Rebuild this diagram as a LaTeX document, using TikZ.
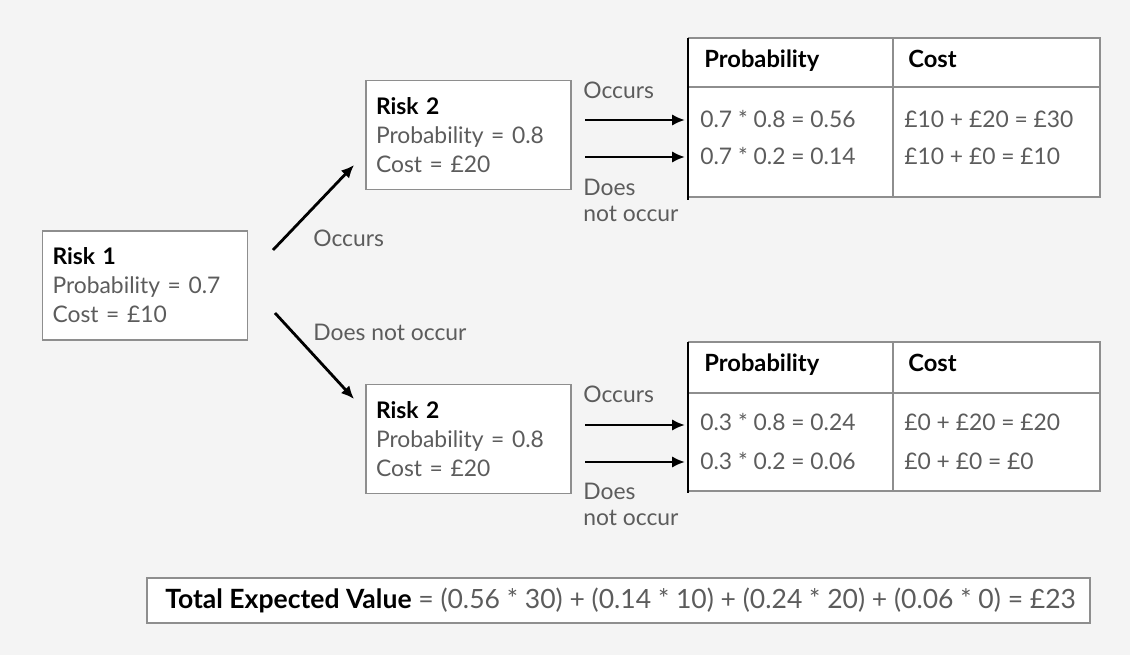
\documentclass[tikz,border=0pt]{standalone}
\usepackage{fontspec}
\setmainfont{Lato}
\usetikzlibrary{arrows.meta}
\definecolor{bggray}{HTML}{F4F4F4}
\definecolor{linegray}{HTML}{8E8E8E}
\definecolor{txtgray}{HTML}{5C5C5C}
\tikzset{
  riskbox/.style={draw=linegray, line width=1.1pt, fill=white, minimum width=4.08cm,
    minimum height=2.18cm, text width=3.7cm, align=left, inner xsep=0.2cm,
    font=\fontsize{13}{16.5}\selectfont, text=txtgray},
  lbl/.style={anchor=west, inner sep=0pt, text=txtgray, font=\fontsize{13}{15}\selectfont},
  cell/.style={anchor=base west, inner sep=0pt, text=txtgray, font=\fontsize{13}{15}\selectfont},
  head/.style={anchor=base west, inner sep=0pt, font=\bfseries\fontsize{13.5}{15}\selectfont},
  arr/.style={line width=1.6pt, -{Latex[length=2.6mm,width=2.3mm]}}
}
\begin{document}
\begin{tikzpicture}[x=0.02cm, y=-0.02cm]
  \fill[bggray] (0,0) rectangle (1130,655);
  \useasboundingbox (0,0) rectangle (1130,655);

  % risk boxes
  \node[riskbox] (r1) at (145,285.5) {\textcolor{black}{\textbf{Risk 1}}\\Probability = 0.7\\Cost = £10};
  \node[riskbox] (r2a) at (468.5,135) {\textcolor{black}{\textbf{Risk 2}}\\Probability = 0.8\\Cost = £20};
  \node[riskbox] (r2b) at (468.5,439) {\textcolor{black}{\textbf{Risk 2}}\\Probability = 0.8\\Cost = £20};

  % branches from risk 1
  \coordinate (up) at (273,250);
  \coordinate (dn) at (275,313);
  \draw[arr] (up) -- ([xshift=-0.22cm,yshift=-0.6cm]r2a.west);
  \draw[arr] (dn) -- ([xshift=-0.22cm,yshift=0.8cm]r2b.west);
  \node[lbl] (occ1) at (313,238) {Occurs};
  \node[lbl] (nocc1) at (313,332) {Does not occur};

  % top table
  \begin{scope}
    \fill[white] (688,38) rectangle (1100,197);
    \draw[linegray, line width=1.1pt] (688,38) -- (1100,38) -- (1100,197) -- (688,197);
    \draw[linegray, line width=1.1pt] (688,87) -- (1100,87);
    \draw[linegray, line width=1.1pt] (893,38) -- (893,197);
    \draw[line width=1.1pt] (688,38) -- (688,200);

    \node[head] (t1h1) at (704,68) {Probability};
    \node[head] (t1h2) at (908,68) {Cost};
    \node[cell] (t1p1) at (700,128) {0.7 * 0.8 = 0.56};
    \node[cell] (t1c1) at (904,128) {£10 + £20 = £30};
    \node[cell] (t1p2) at (700,165) {0.7 * 0.2 = 0.14};
    \node[cell] (t1c2) at (904,165) {£10 + £0 = £10};
  \end{scope}

  % bottom table
  \begin{scope}
    \fill[white] (688,342) rectangle (1100,491);
    \draw[linegray, line width=1.1pt] (688,342) -- (1100,342) -- (1100,491) -- (688,491);
    \draw[linegray, line width=1.1pt] (688,393) -- (1100,393);
    \draw[linegray, line width=1.1pt] (893,342) -- (893,491);
    \draw[line width=1.1pt] (688,342) -- (688,493);

    \node[head] (t2h1) at (704,372) {Probability};
    \node[head] (t2h2) at (908,372) {Cost};
    \node[cell] (t2p1) at (700,431) {0.3 * 0.8 = 0.24};
    \node[cell] (t2c1) at (904,431) {£0 + £20 = £20};
    \node[cell] (t2p2) at (700,469) {0.3 * 0.2 = 0.06};
    \node[cell] (t2c2) at (904,469) {£0 + £0 = £0};
  \end{scope}

  % outcome arrows
  \coordinate (o1) at (585,120);
  \coordinate (n1) at (585,157);
  \coordinate (o2) at (585,425);
  \coordinate (n2) at (585,462);
  \draw[arr] (o1) -- ([xshift=-0.3cm]t1p1.west |- o1);
  \draw[arr] (n1) -- ([xshift=-0.3cm]t1p2.west |- n1);
  \draw[arr] (o2) -- ([xshift=-0.3cm]t2p1.west |- o2);
  \draw[arr] (n2) -- ([xshift=-0.3cm]t2p2.west |- n2);

  \node[lbl] (occ2) at (583,90) {Occurs};
  \node[lbl, align=left, anchor=north west, font=\fontsize{13}{14.7}\selectfont] (nocc2) at (583,179) {Does\\not occur};
  \node[lbl] (occ3) at (583,394) {Occurs};
  \node[lbl, align=left, anchor=north west, font=\fontsize{13}{14.7}\selectfont] (nocc3) at (583,483) {Does\\not occur};

  % total
  \fill[white] (147,578) rectangle (1090,623);
  \draw[linegray, line width=1.1pt] (147,578) rectangle (1090,623);
  \node[cell, anchor=west, font=\fontsize{15.1}{16}\selectfont] (tot) at (165,600.5)
    {\textcolor{black}{\textbf{Total Expected Value}} = (0.56 * 30) + (0.14 * 10) + (0.24 * 20) + (0.06 * 0) = £23};
\end{tikzpicture}
\end{document}
